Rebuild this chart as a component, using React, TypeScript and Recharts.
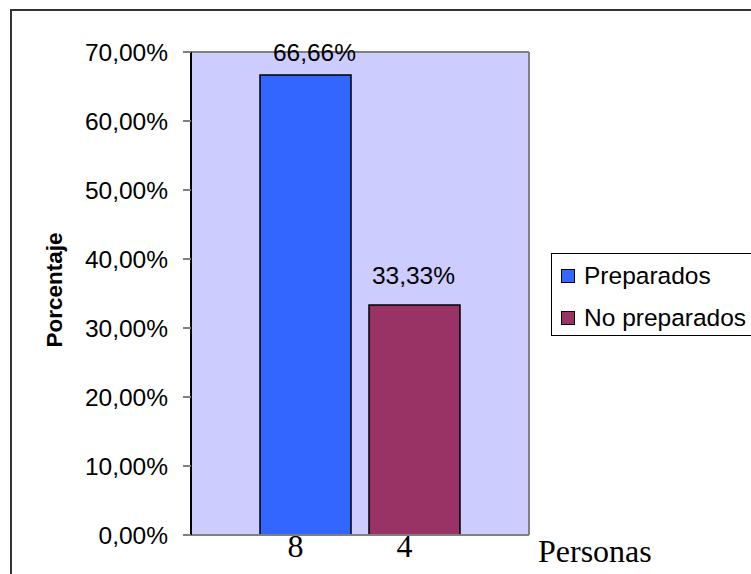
import React from 'react';
import { BarChart, Bar, XAxis, YAxis, CartesianGrid, Legend, LabelList, Customized } from 'recharts';

// Chart data
const categories = ['Preparados', 'No preparados'];
const percentages = [0.6666, 0.3333];
const personas = [8, 4];
const colors = ['#3366FF', '#993366'];
const yTicks = [0, 0.1, 0.2, 0.3, 0.4, 0.5, 0.6, 0.7];

const data = [
  categories.reduce((row: any, cat, i) => {
    row[cat] = percentages[i];
    row[cat + '_n'] = personas[i];
    return row;
  }, { name: '' }),
];

const sans = '"Liberation Sans", Arial, sans-serif';
const serif = '"Liberation Serif", "Times New Roman", serif';

const pct = (v: number) => (v * 100).toFixed(2).replace('.', ',') + '%';

// value above the bar, shifted a little like in the original
const valueLabel = (dx: number, gap: number) => (props: any) => {
  const { x, y, width, value } = props;
  return (
    <text
      x={x + width / 2 + dx}
      y={y - gap}
      textAnchor="middle"
      fontFamily={sans}
      fontSize={24.5}
      fill="#000"
    >
      {pct(value)}
    </text>
  );
};

// count written under the bar
const countLabel = (props: any) => {
  const { x, y, width, height, value } = props;
  return (
    <text
      x={x + width / 2 - 10}
      y={y + height + 22}
      textAnchor="middle"
      fontFamily={serif}
      fontSize={32}
      fill="#000"
    >
      {value}
    </text>
  );
};

const LegendBox = () => (
  <div
    style={{
      width: 230,
      height: 83,
      border: '1px solid #000',
      background: '#fff',
      boxSizing: 'border-box',
      paddingTop: 13,
      paddingLeft: 9,
    }}
  >
    {categories.map((cat, i) => (
      <div key={cat} style={{ display: 'flex', alignItems: 'center', height: 42 }}>
        <span
          style={{
            display: 'inline-block',
            width: 12,
            height: 12,
            border: '1.5px solid #000',
            background: colors[i],
            marginRight: 9,
            marginTop: -24,
          }}
        />
        <span
          style={{
            fontFamily: sans,
            fontSize: 24.5,
            color: '#000',
            marginTop: -24,
            whiteSpace: 'nowrap',
          }}
        >
          {cat}
        </span>
      </div>
    ))}
  </div>
);

const Extras = () => (
  <g>
    <text
      x={62}
      y={290}
      transform="rotate(-90 62 290)"
      textAnchor="middle"
      fontFamily={sans}
      fontWeight="bold"
      fontSize={22.5}
      fill="#000"
    >
      Porcentaje
    </text>
    <text x={538} y={562} fontFamily={serif} fontSize={32} fill="#000">
      Personas
    </text>
  </g>
);

export default function App() {
  return (
    <div style={{ position: 'absolute', left: 0, top: 0, width: 751, height: 574, overflow: 'hidden', background: '#fff' }}>
      <div
        style={{
          position: 'absolute',
          left: 10,
          top: 9,
          width: 800,
          height: 640,
          border: '2px solid #333',
        }}
      />
      <div style={{ position: 'absolute', left: 0, top: 0 }}>
        <BarChart
          width={751}
          height={574}
          data={data}
          margin={{ top: 51, right: 221, bottom: 38, left: 0 }}
          barGap={18}
        >
          <CartesianGrid fill="#CCCCFF" horizontal={false} vertical={false} />
          <XAxis dataKey="name" height={1} tick={false} tickLine={false} axisLine={{ stroke: '#808080', strokeWidth: 2 }} />
          <XAxis xAxisId="top" orientation="top" dataKey="name" height={1} tick={false} tickLine={false} axisLine={{ stroke: '#808080', strokeWidth: 2 }} />
          <YAxis
            width={191}
            domain={[0, 0.7]}
            ticks={yTicks}
            tickFormatter={pct}
            tick={{ fontFamily: sans, fontSize: 24.5, fill: '#000' }}
            tickSize={8}
            tickMargin={15}
            tickLine={{ stroke: '#808080', strokeWidth: 2 }}
            axisLine={{ stroke: '#000', strokeWidth: 2 }}
          />
          <YAxis yAxisId="right" orientation="right" width={1} domain={[0, 0.7]} tick={false} tickLine={false} axisLine={{ stroke: '#808080', strokeWidth: 2 }} />
          <Legend
            layout="vertical"
            align="center"
            verticalAlign="middle"
            content={() => <LegendBox />}
            wrapperStyle={{ left: 551, top: 253, width: 230, height: 83 }}
          />
          {categories.map((cat, i) => (
            <Bar
              key={cat}
              dataKey={cat}
              fill={colors[i]}
              stroke="#000"
              strokeWidth={1.5}
              barSize={91}
              isAnimationActive={false}
            >
              <LabelList dataKey={cat} content={valueLabel(i === 0 ? 9 : -1, i === 0 ? 14 : 21)} />
              <LabelList dataKey={cat + '_n'} content={countLabel} />
            </Bar>
          ))}
          <Customized component={Extras} />
        </BarChart>
      </div>
    </div>
  );
}
